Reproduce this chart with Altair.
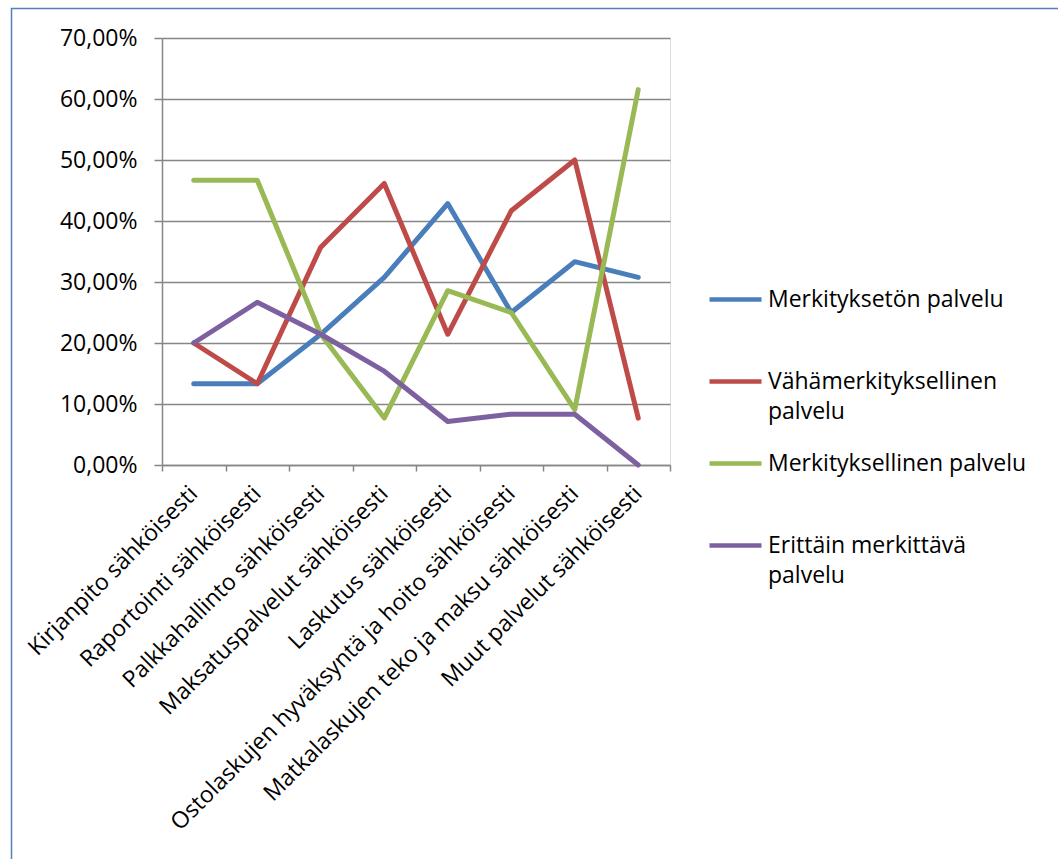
import altair as alt
import pandas as pd

categories = [
    "Kirjanpito sähköisesti",
    "Raportointi sähköisesti",
    "Palkkahallinto sähköisesti",
    "Maksatuspalvelut sähköisesti",
    "Laskutus sähköisesti",
    "Ostolaskujen hyväksyntä ja hoito sähköisesti",
    "Matkalaskujen teko ja maksu sähköisesti",
    "Muut palvelut sähköisesti",
]
series = [
    "Merkityksetön palvelu",
    "Vähämerkityksellinen palvelu",
    "Merkityksellinen palvelu",
    "Erittäin merkittävä palvelu",
]
merkitykseton = [0.1333, 0.1333, 0.2143, 0.3077, 0.4286, 0.2500, 0.3333, 0.3077]
vahamerkityksellinen = [0.2000, 0.1333, 0.3571, 0.4615, 0.2143, 0.4167, 0.5000, 0.0769]
merkityksellinen = [0.4667, 0.4667, 0.2143, 0.0769, 0.2857, 0.2500, 0.0909, 0.6154]
erittain = [0.2000, 0.2667, 0.2143, 0.1538, 0.0714, 0.0833, 0.0833, 0.0000]
colors = ["#4A7EBB", "#BE4B48", "#98B954", "#7D60A0"]
y_ticks = [0.0, 0.1, 0.2, 0.3, 0.4, 0.5, 0.6, 0.7]

values = [merkitykseton, vahamerkityksellinen, merkityksellinen, erittain]
rows = []
for s, vals in zip(series, values):
    for c, v in zip(categories, vals):
        rows.append({"Kategoria": c, "Sarja": s, "Arvo": v})
df = pd.DataFrame(rows)

FONT = "Open Sans"
FS = 23
GRAY = "#868686"

label_expr = (
    "datum.label == 'Vähämerkityksellinen palvelu' ? ['Vähämerkityksellinen', 'palvelu'] : "
    "datum.label == 'Erittäin merkittävä palvelu' ? ['Erittäin merkittävä', 'palvelu'] : "
    "[datum.label, '']"
)

lines = alt.Chart(df).mark_line(
    strokeWidth=5, strokeCap="round", strokeJoin="round"
).encode(
    x=alt.X(
        "Kategoria:N",
        sort=categories,
        bandPosition=0.5,
        scale=alt.Scale(type="band", domain=categories, paddingInner=0, paddingOuter=0),
        axis=alt.Axis(
            title=None,
            grid=False,
            tickBand="extent",
            domainColor=GRAY,
            domainWidth=1.5,
            tickColor=GRAY,
            tickWidth=1.5,
            tickSize=6,
            labelAngle=-45,
            labelAlign="right",
            labelBaseline="top",
            labelFont=FONT,
            labelFontSize=FS,
            labelColor="#000000",
            labelLimit=800,
            labelPadding=11,
            labelOffset=-8,
        ),
    ),
    y=alt.Y(
        "Arvo:Q",
        scale=alt.Scale(domain=[0, 0.7], nice=False),
        axis=alt.Axis(
            title=None,
            values=y_ticks,
            labelExpr="replace(format(datum.value, '.2%'), '.', ',')",
            grid=True,
            gridColor=GRAY,
            gridWidth=1.3,
            domainColor=GRAY,
            domainWidth=1.5,
            tickColor=GRAY,
            tickWidth=1.5,
            tickSize=8,
            labelFont=FONT,
            labelFontSize=FS,
            labelColor="#000000",
            labelPadding=17,
        ),
    ),
    color=alt.Color(
        "Sarja:N",
        sort=series,
        scale=alt.Scale(domain=series, range=colors),
        legend=alt.Legend(
            title=None,
            orient="none",
            legendX=545,
            legendY=233,
            padding=0,
            symbolType="stroke",
            symbolSize=2704,
            symbolStrokeWidth=4.5,
            labelFont=FONT,
            labelFontSize=FS,
            labelColor="#000000",
            labelLimit=600,
            labelOffset=4,
            labelExpr=label_expr,
            rowPadding=11,
        ),
    ),
    order=alt.Order("Sarja:N"),
)

frame = alt.Chart(alt.Data(values=[{"k": 1}])).mark_rect(
    fill=None, fillOpacity=0, stroke="#4F81BD", strokeWidth=1.5
).encode(
    x=alt.value(-150.5),
    y=alt.value(-29.5),
    x2=alt.value(1058 - 162 + 30),
    y2=alt.value(859 - 38 + 30),
)

chart = alt.layer(frame, lines).properties(
    width=508,
    height=427,
    autosize=alt.AutoSizeParams(type="none"),
    padding={"left": 162, "top": 38, "right": 388, "bottom": 394},
    background="#FFFFFF",
).configure_view(stroke=None).configure(
    font=FONT, style={"guide-label": {"lineHeight": 30}}
)

chart.save("out.html", embed_options={"renderer": "svg", "actions": False})
